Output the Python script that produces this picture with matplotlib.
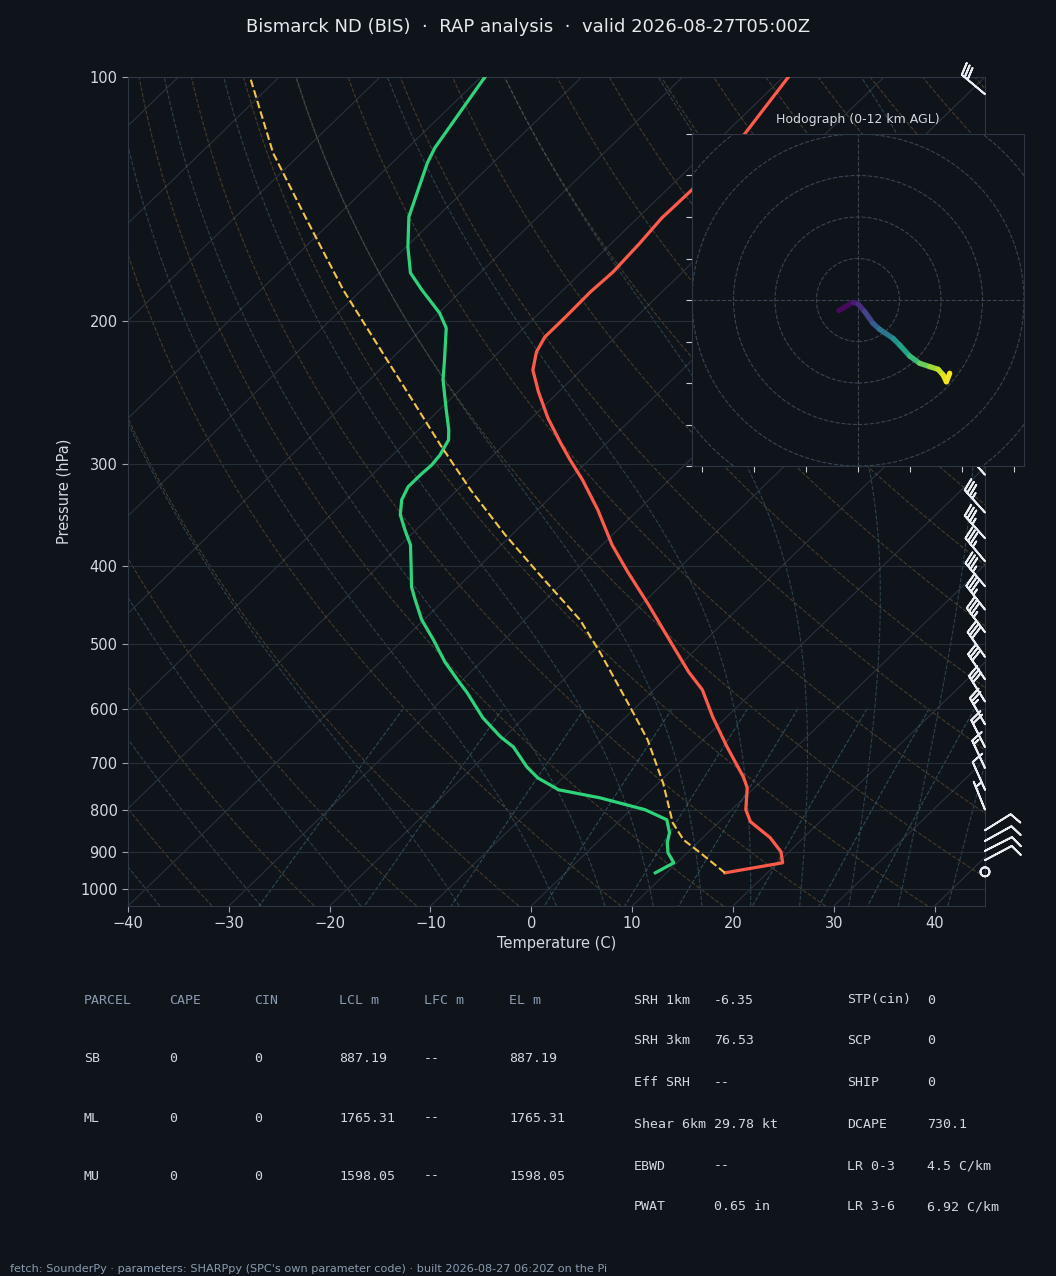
import numpy as np
import matplotlib
matplotlib.use("Agg")
import matplotlib.pyplot as plt
from matplotlib.transforms import Affine2D, blended_transform_factory
from matplotlib.collections import LineCollection
from matplotlib.patches import Circle

# ------------------------------------------------------------------ data
title = "Bismarck ND (BIS)  \u00b7  RAP analysis  \u00b7  valid 2026-08-27T05:00Z"
footer = ("fetch: SounderPy \u00b7 parameters: SHARPpy (SPC's own parameter code) "
          "\u00b7 built 2026-08-27 06:20Z on the Pi")

temp_p = [955.7, 928.9, 900.3, 865.2, 826.8, 799.0, 750.9, 728.1, 668.6, 614.1,
          568.7, 540.5, 490.9, 445.7, 407.0, 377.1, 341.5, 313.6, 296.2, 282.2,
          263.0, 244.3, 229.6, 218.1, 209.0, 197.0, 184.0, 173.9, 160.2, 149.2,
          137.8, 117.5, 100.0]
temp_c = [15.8, 20.5, 19.2, 16.7, 13.1, 11.4, 9.3, 7.8, 3.1, -1.4,
          -5.2, -8.4, -13.9, -19.4, -24.7, -29.0, -34.0, -38.6, -41.9, -44.6,
          -48.4, -52.0, -54.8, -56.3, -57.0, -57.0, -57.1, -56.9, -57.2, -57.6,
          -57.5, -58.0, -59.5]

dwpt_p = [955.7, 928.9, 902.9, 877.6, 853.1, 822.2, 799.0, 772.5, 755.2, 730.0,
          707.7, 668.6, 649.8, 615.7, 573.7, 552.9, 525.4, 493.5, 466.4, 440.7,
          424.7, 399.0, 377.1, 361.3, 346.2, 331.8, 319.8, 309.1, 300.5, 292.1,
          279.9, 272.1, 257.1, 236.1, 223.1, 203.8, 195.3, 183.0, 174.3, 162.0,
          148.7, 127.6, 122.3, 100.0]
dwpt_c = [8.9, 9.7, 8.1, 7.0, 6.2, 4.6, 1.4, -4.3, -9.2, -12.5,
          -14.7, -18.1, -20.4, -24.1, -28.2, -30.5, -33.6, -37.0, -40.2, -42.9,
          -44.6, -46.9, -49.0, -51.1, -53.1, -54.5, -55.2, -55.2, -55.1, -55.3,
          -56.0, -57.0, -59.3, -62.7, -64.6, -67.7, -69.9, -74.0, -76.9, -79.8,
          -82.8, -86.5, -87.3, -89.6]

parcel_p = [955.7, 902.9, 870.2, 829.3, 740.6, 655.4, 597.1, 512.2, 466.4, 410.5,
            366.4, 322.5, 283.9, 249.9, 221.2, 183.0, 150.0, 124.1, 100.0]
parcel_c = [15.8, 11.3, 8.3, 5.5, 0.45, -5.5, -10.6, -19.1, -24.5, -33.1,
            -40.65, -48.7, -56.3, -63.7, -70.8, -81.8, -92.6, -102.8, -112.9]

barb_p = [953, 922, 898, 873, 847, 799, 755, 710, 669, 627, 588, 552, 518,
          483, 453, 424, 395, 370, 344, 309, 105]
barb_spd = [0, 10, 10, 10, 10, 5, 10, 15, 20, 25, 30, 30, 30,
            35, 35, 35, 35, 35, 35, 35, 30]
barb_dir = [0, 62, 63, 61, 58, 338, 336, 335, 333, 330, 328, 326, 325,
            323, 322, 320, 320, 318, 318, 318, 310]

hodo_u = [-9.2, -2.4, 0.0, 3.2, 7.2, 10.4, 16.9, 20.1, 24.9, 29.7, 34.5, 38.6, 41.0, 42.6, 44.2]
hodo_v = [-5.1, -1.1, -1.9, -5.6, -11.2, -14.1, -18.5, -21.7, -27.0, -30.5, -32.1, -33.4, -36.1, -39.4, -35.3]
hodo_z = [0.0, 0.6, 1.0, 2.0, 3.0, 4.0, 5.5, 6.5, 7.5, 8.7, 9.8, 10.6, 11.3, 11.7, 12.0]

tbl_head = ["PARCEL", "CAPE", "CIN", "LCL m", "LFC m", "EL m"]
tbl_rows = [["SB", "0", "0", "887.19", "--", "887.19"],
            ["ML", "0", "0", "1765.31", "--", "1765.31"],
            ["MU", "0", "0", "1598.05", "--", "1598.05"]]
idx_a_names = ["SRH 1km", "SRH 3km", "Eff SRH", "Shear 6km", "EBWD", "PWAT"]
idx_a_vals = ["-6.35", "76.53", "--", "29.78 kt", "--", "0.65 in"]
idx_b_names = ["STP(cin)", "SCP", "SHIP", "DCAPE", "LR 0-3", "LR 3-6"]
idx_b_vals = ["0", "0", "0", "730.1", "4.5 C/km", "6.92 C/km"]

# ------------------------------------------------------------------ style
BG = "#0f141b"
SPINE = "#2e3744"
TXT = "#d4d9e0"
MUTED = "#8a9bb0"
W, H = 1056, 1276

fig = plt.figure(figsize=(W / 100, H / 100), dpi=100, facecolor=BG)

ax = fig.add_axes([128 / W, 1 - 906 / H, 857 / W, 829 / H])
ax.set_facecolor(BG)
ax.set_yscale("log")
ax.set_xlim(-40, 45)
ax.set_ylim(1050, 100)
ax.set_autoscale_on(False)
skew = ax.transScale + ax.transLimits + Affine2D().skew_deg(45, 0) + ax.transAxes

for s in ax.spines.values():
    s.set_color(SPINE)
ax.set_yticks(list(range(100, 1001, 100)))
ax.set_yticklabels([str(v) for v in range(100, 1001, 100)])
ax.yaxis.set_minor_locator(matplotlib.ticker.NullLocator())
ax.set_xticks(list(range(-40, 41, 10)))
ax.tick_params(axis="both", colors="#9aa4b0", labelcolor=TXT, labelsize=10.5, length=4, width=0.8)
ax.grid(axis="y", color="#262e38", lw=0.8)
ax.set_xlabel("Temperature (C)", color=TXT, fontsize=10.5, labelpad=3)
ax.set_ylabel("Pressure (hPa)", color=TXT, fontsize=10.5, labelpad=6)

# isotherms
for t in range(-130, 50, 10):
    ax.plot([t, t], [1050, 100], transform=skew, color="#2a323d", lw=0.8, zorder=1)

pp = np.linspace(1050, 100, 120)
# dry adiabats
for t0 in range(-35, 230, 10):
    tt = (t0 + 273.15) * (pp / 1000.0) ** 0.2857 - 273.15
    ax.plot(tt, pp, transform=skew, color="#8a6a3a", alpha=0.45, lw=0.8, ls="--", zorder=1)


# moist adiabats
def moist(t0s):
    Rd, Cp, Lv, eps = 287.04, 1005.7, 2.501e6, 0.622

    def f(p, T):
        tc = T - 273.15
        es = 6.112 * np.exp(17.67 * tc / (tc + 243.5))
        rs = eps * es / (p - es)
        return (Rd * T + Lv * rs) / (p * (Cp + Lv * Lv * rs * eps / (Rd * T * T)))

    def integrate(T, p_from, p_to, n=400):
        ps = np.linspace(p_from, p_to, n)
        out = [T.copy()]
        for i in range(n - 1):
            p, h = ps[i], ps[i + 1] - ps[i]
            k1 = f(p, T)
            k2 = f(p + h / 2, T + h / 2 * k1)
            k3 = f(p + h / 2, T + h / 2 * k2)
            k4 = f(p + h, T + h * k3)
            T = T + h / 6 * (k1 + 2 * k2 + 2 * k3 + k4)
            out.append(T.copy())
        return ps, np.array(out)

    T0 = np.array(t0s, float) + 273.15
    pu, tu = integrate(T0, 1000.0, 100.0)
    pd, td = integrate(T0, 1000.0, 1050.0, 20)
    ps = np.concatenate([pd[::-1], pu[1:]])
    ts = np.concatenate([td[::-1], tu[1:]])
    return ps, ts - 273.15


mt0 = list(range(-40, 0, 10)) + list(range(0, 46, 5))
mp, mt = moist(mt0)
for j in range(len(mt0)):
    ax.plot(mt[:, j], mp, transform=skew, color="#4a6e80", alpha=0.5, lw=0.8, ls="--", zorder=1)

# mixing ratio lines
pm = np.linspace(600, 1050, 50)
for w in [0.0004, 0.001, 0.002, 0.004, 0.007, 0.01, 0.016, 0.024, 0.032]:
    e = w * pm / (0.622 + w)
    le = np.log(e / 6.112)
    td = 243.5 * le / (17.67 - le)
    ax.plot(td, pm, transform=skew, color="#3f7080", alpha=0.6, lw=0.8, ls="--", zorder=1)

# profiles
ax.plot(temp_c, temp_p, transform=skew, color="#ff5b4a", lw=2.3, zorder=4)
ax.plot(dwpt_c, dwpt_p, transform=skew, color="#2ed47a", lw=2.3, zorder=4)
ax.plot(parcel_c, parcel_p, transform=skew, color="#f4c542", lw=1.5, ls="--", zorder=4)

# wind barbs
spd = np.array(barb_spd, float)
drc = np.deg2rad(np.array(barb_dir, float))
bu = -spd * np.sin(drc)
bv = -spd * np.cos(drc)
bt = blended_transform_factory(ax.transAxes, ax.transData)
ax.barbs(np.ones(len(barb_p)), barb_p, bu, bv, transform=bt, clip_on=False,
         length=6.6, color="#e8ecf0", linewidth=1.35, zorder=6)
ax.set_xlim(-40, 45)
ax.set_ylim(1050, 100)

# ------------------------------------------------------------------ hodograph
hax = fig.add_axes([692 / W, 1 - 466 / H, 332 / W, 332 / H])
hax.set_facecolor(BG)
hax.set_xlim(-80, 80)
hax.set_ylim(-80, 80)
for s in hax.spines.values():
    s.set_color(SPINE)
for r in range(20, 121, 20):
    hax.add_patch(Circle((0, 0), r, fill=False, ls="--", lw=0.8, color="#3a4553"))
hax.axhline(0, ls="--", lw=0.8, color="#3a4553")
hax.axvline(0, ls="--", lw=0.8, color="#3a4553")
hax.set_xticks(np.arange(-75, 76, 25))
hax.set_yticks(np.arange(-80, 81, 20))
hax.tick_params(labelbottom=False, labelleft=False, colors="#c8cdd4", length=4, width=0.8)
pts = np.column_stack([hodo_u, hodo_v])
segs = np.stack([pts[:-1], pts[1:]], axis=1)
zmid = 0.5 * (np.array(hodo_z[:-1]) + np.array(hodo_z[1:]))
lc = LineCollection(segs, cmap="viridis", norm=plt.Normalize(0, 12), lw=3.8, capstyle="round")
lc.set_array(zmid)
hax.add_collection(lc)
fig.text(858 / W, 1 - 120 / H, "Hodograph (0-12 km AGL)", ha="center", va="center",
         fontsize=9, color=TXT)

# ------------------------------------------------------------------ texts
fig.text(0.5, 1 - 27 / H, title, ha="center", va="center", fontsize=13, color="#e6eaef")

mono = "DejaVu Sans Mono"
col_x = [84, 169, 254, 339, 424, 509]
row_y = [1000, 1059, 1118, 1176]
for cx, hd in zip(col_x, tbl_head):
    fig.text(cx / W, 1 - row_y[0] / H, hd, family=mono, fontsize=9.5, color=MUTED, va="center")
for ry, row in zip(row_y[1:], tbl_rows):
    for cx, val in zip(col_x, row):
        fig.text(cx / W, 1 - ry / H, val, family=mono, fontsize=9.5, color=TXT, va="center")

idx_y = [1000, 1041, 1083, 1124, 1166, 1207]
for y, a, b in zip(idx_y, idx_a_names, idx_a_vals):
    fig.text(634 / W, 1 - y / H, a, family=mono, fontsize=9.5, color=TXT, va="center")
    fig.text(714 / W, 1 - y / H, b, family=mono, fontsize=9.5, color=TXT, va="center")
for y, a, b in zip(idx_y, idx_b_names, idx_b_vals):
    fig.text(847 / W, 1 - y / H, a, family=mono, fontsize=9.5, color=TXT, va="center")
    fig.text(927 / W, 1 - y / H, b, family=mono, fontsize=9.5, color=TXT, va="center")

fig.text(10 / W, 1 - 1269 / H, footer, fontsize=8.15, color=MUTED, va="center")

fig.savefig("out.png", dpi=100, facecolor=BG)
